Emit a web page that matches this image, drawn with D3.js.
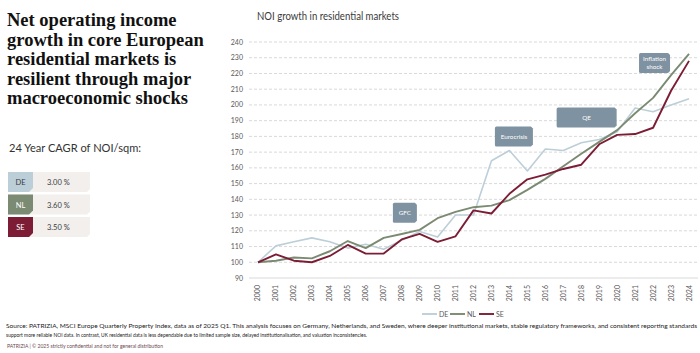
<!DOCTYPE html>
<meta charset="utf-8">
<title>NOI growth in residential markets</title>
<style type="text/css">
body { margin: 0; background: #fff; }
svg { display: block; font-family: Lato, sans-serif; }
.grid line { stroke: #d9d9d9; stroke-dasharray: 3,2; }
.ylab { font-size: 7px; fill: #595959; }
.xlab { font-size: 7px; fill: #595959; }
</style>
<script src="https://cdn.jsdelivr.net/npm/d3@7/dist/d3.min.js"></script>
<body>
<script>
var width = 700, height = 353;

// data
var years = ["2000","2001","2002","2003","2004","2005","2006","2007","2008","2009","2010","2011","2012",
             "2013","2014","2015","2016","2017","2018","2019","2020","2021","2022","2023","2024"];
var deValues = [100,110.4,113,115.5,113,109,111.5,108.3,114,119.6,116,130,130,164.5,171,158,172,171,176,178,183,198,195.7,200,204];
var nlValues = [100,101,103,102.5,107,113.5,109,115.5,118,120.6,128,132,135,136,139.5,146,153,161,169,176.5,184,194.7,204.5,219,232.5];
var seValues = [100,105,101,100,104,111,105.5,105.5,114.5,118,113,116.5,133,131,143.5,152.7,155.7,159.3,162,175,181,181.5,185.5,209,228];
var yTicks = [90,100,110,120,130,140,150,160,170,180,190,200,210,220,230,240];
var seriesNames = ["DE","NL","SE"];
var seriesColors = ["#bccfd8","#7b8a72","#7c1d35"];
var cagrValues = ["3.00 %","3.60 %","3.50 %"];
// events: label lines, position in year-index / value units
var eventLabels = [["GFC"],["Eurocrisis"],["QE"],["Inflation","shock"]];
var eventIdx = [8.18, 14.25, 18.3, 22.08];
var eventVal = [131.5, 180, 192, 226.7];
var eventW = [24, 38, 60, 31];

var titleLines = ["Net operating income","growth in core European","residential markets is",
                  "resilient through major","macroeconomic shocks"];
var footLines = ["Source: PATRIZIA, MSCI Europe Quarterly Property Index, data as of 2025 Q1. This analysis focuses on Germany, Netherlands, and Sweden, where deeper institutional markets, stable regulatory frameworks, and consistent reporting standards",
                 "support more reliable NOI data. In contrast, UK residential data is less dependable due to limited sample size, delayed institutionalisation, and valuation inconsistencies."];

var svg = d3.select("body").append("svg").attr("width", width).attr("height", height);

// left title
svg.append("g").selectAll("text")
  .data(titleLines).enter().append("text")
  .attr("x", 7).attr("y", function(d, i) { return 26 + i * 19.6; })
  .style("font-family", "'Liberation Serif', 'Times New Roman', serif")
  .style("font-weight", "bold").style("font-size", "18.5px").style("fill", "#111")
  .text(function(d) { return d; });

svg.append("text").attr("x", 9).attr("y", 152)
  .attr("textLength", 132).attr("lengthAdjust", "spacingAndGlyphs")
  .style("font-size", "12px").style("fill", "#333")
  .text("24 Year CAGR of NOI/sqm:");

// CAGR rows
var rows = svg.selectAll(".cagr").data(seriesNames).enter().append("g")
  .attr("class", "cagr")
  .attr("transform", function(d, i) { return "translate(8," + (172 + i * 22.5) + ")"; });
rows.append("path")
  .attr("d", "M0,0 H82 V17 L79,20 H0 Z")
  .attr("fill", "#f2efed");
rows.append("path")
  .attr("d", "M0,0 H25 V16 L21,20 H0 Z")
  .attr("fill", function(d, i) { return seriesColors[i]; });
rows.append("text").attr("x", 12.5).attr("y", 13).attr("text-anchor", "middle")
  .style("font-size", "7.5px")
  .style("fill", function(d, i) { return i == 0 ? "#3a3a3a" : "#fff"; })
  .text(function(d) { return d; });
rows.append("text").attr("x", 39).attr("y", 13)
  .style("font-size", "7.5px").style("fill", "#3a3a3a")
  .text(function(d, i) { return cagrValues[i]; });

// chart
svg.append("text").attr("x", 257).attr("y", 20)
  .attr("textLength", 142).attr("lengthAdjust", "spacingAndGlyphs")
  .style("font-size", "11.5px").style("fill", "#3a3a3a")
  .text("NOI growth in residential markets");

var x = d3.scalePoint().domain(years).range([249, 698]).padding(0.5);
var y = d3.scaleLinear().domain([90, 240]).range([278, 42]);
var xIdx = d3.scaleLinear().domain([0, years.length - 1]).range([x(years[0]), x(years[years.length - 1])]);

svg.append("g").attr("class", "grid").selectAll("line")
  .data(yTicks.slice(1)).enter().append("line")
  .attr("x1", 249).attr("x2", 698)
  .attr("y1", function(d) { return y(d); }).attr("y2", function(d) { return y(d); });
svg.append("line").attr("x1", 249).attr("x2", 698).attr("y1", y(90)).attr("y2", y(90))
  .attr("stroke", "#d9d9d9");

svg.selectAll(".ylab").data(yTicks).enter().append("text")
  .attr("class", "ylab").attr("x", 243).attr("y", function(d) { return y(d) + 2.5; })
  .attr("text-anchor", "end").text(function(d) { return d; });

svg.selectAll(".xlab").data(years).enter().append("text")
  .attr("class", "xlab")
  .attr("transform", function(d) { return "translate(" + (x(d) + 2.5) + ",285) rotate(-90)"; })
  .attr("text-anchor", "end").text(function(d) { return d; });

var line = d3.line().x(function(d, i) { return x(years[i]); }).y(function(d) { return y(d); });
var series = [deValues, nlValues, seValues];
svg.selectAll(".series").data(series).enter().append("path")
  .attr("class", "series")
  .attr("d", line).attr("fill", "none")
  .attr("stroke", function(d, i) { return seriesColors[i]; })
  .attr("stroke-width", function(d, i) { return i == 0 ? 1.6 : 1.9; })
  .attr("stroke-linejoin", "round");

// event boxes
var ev = svg.selectAll(".event").data(eventLabels).enter().append("g")
  .attr("class", "event")
  .attr("transform", function(d, i) { return "translate(" + xIdx(eventIdx[i]) + "," + y(eventVal[i]) + ")"; });
ev.append("path")
  .attr("d", function(d, i) {
    var w = eventW[i] / 2, h = 10;
    return "M" + (-w + 1.5) + "," + (-h) + " H" + (w - 2) + " L" + w + "," + (-h + 2) +
           " V" + (h - 2) + " L" + (w - 2) + "," + h + " H" + (-w + 1.5) + " Q" + (-w) + "," + h + " " + (-w) + "," + (h - 1.5) +
           " V" + (-h + 1.5) + " Q" + (-w) + "," + (-h) + " " + (-w + 1.5) + "," + (-h) + " Z";
  })
  .attr("fill", "#7f92a1");
ev.each(function(d) {
  var g = d3.select(this);
  g.selectAll("text").data(d).enter().append("text")
    .attr("x", 0).attr("y", function(t, j) { return (j - (d.length - 1) / 2) * 8 + 2.3; })
    .attr("text-anchor", "middle")
    .style("font-size", "6.3px").style("fill", "#fff")
    .text(function(t) { return t; });
});

// legend
var legX = [422, 450, 479];
var leg = svg.selectAll(".legend").data(seriesNames).enter().append("g")
  .attr("class", "legend")
  .attr("transform", function(d, i) { return "translate(" + legX[i] + ",314)"; });
leg.append("line").attr("x1", 0).attr("x2", 15).attr("y1", 0).attr("y2", 0)
  .attr("stroke", function(d, i) { return seriesColors[i]; }).attr("stroke-width", 1.9);
leg.append("text").attr("x", 17).attr("y", 2.5)
  .style("font-size", "7px").style("fill", "#595959")
  .text(function(d) { return d; });

// footer
svg.selectAll(".foot").data(footLines).enter().append("text")
  .attr("class", "foot").attr("x", 6).attr("y", function(d, i) { return 328 + i * 9.3; })
  .attr("textLength", function(d, i) { return i == 0 ? 691 : 361; })
  .attr("lengthAdjust", "spacingAndGlyphs")
  .style("font-size", "6.5px").style("fill", "#222")
  .text(function(d) { return d; });
svg.append("text").attr("x", 7).attr("y", 348)
  .attr("textLength", 156).attr("lengthAdjust", "spacingAndGlyphs")
  .style("font-size", "5.3px").style("fill", "#6b4a4f")
  .text("PATRIZIA | \u00a9 2025   strictly confidential and not for general distribution");
</script>
</body>
